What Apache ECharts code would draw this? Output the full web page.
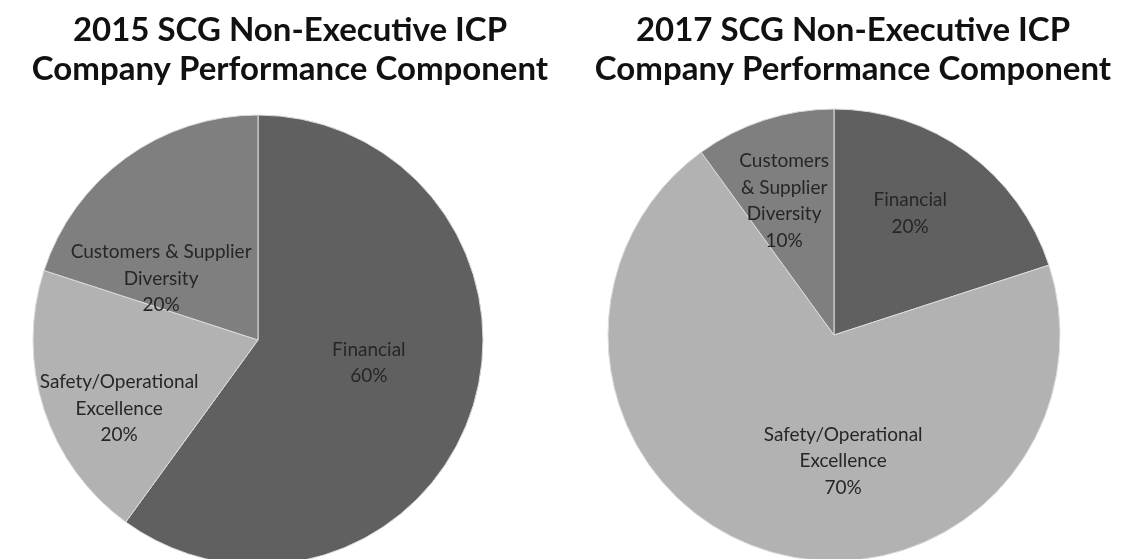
<!DOCTYPE html>
<html>
<head>
<meta charset="utf-8">
<title>SCG Non-Executive ICP</title>
<script src="https://cdn.jsdelivr.net/npm/echarts@6/dist/echarts.min.js"></script>
<style>
  html, body { margin: 0; padding: 0; background: #fff; }
  #chart { width: 1121px; height: 559px; }
</style>
</head>
<body>
<div id="chart"></div>
<script>
// --- Data ---
const categories = ["Financial", "Safety/Operational Excellence", "Customers & Supplier Diversity"];
const values2015 = [60, 20, 20];
const values2017 = [20, 70, 10];
// Wrapped label text, as the slides break the lines
const labels2015 = ["Financial", "Safety/Operational\nExcellence", "Customers & Supplier\nDiversity"];
const labels2017 = ["Financial", "Safety/Operational\nExcellence", "Customers\n& Supplier\nDiversity"];
const titles = [
  "2015 SCG Non-Executive ICP\nCompany Performance Component",
  "2017 SCG Non-Executive ICP\nCompany Performance Component",
];

// --- Styling ---
const SLICE_COLORS = ["#606060", "#b2b2b2", "#7f7f7f"];
const FONT = "Lato, 'Open Sans', sans-serif";
// Nudges so labels sit where the "best fit" placement put them
const OFFSETS_2015 = [[1, -13], [-29, 33], [-29, 32]];
const OFFSETS_2017 = [[8, -28], [45, 16], [-14, -24]];

function pieData(values, labels, offsets) {
  return values.map((v, i) => ({
    name: categories[i],
    value: v,
    itemStyle: { color: SLICE_COLORS[i] },
    label: { offset: offsets[i], formatter: `${labels[i]}\n{c}%` },
  }));
}

function pieSeries(center, radius, data) {
  return {
    type: "pie",
    center,
    radius,
    startAngle: 90,
    clockwise: true,
    silent: true,
    animation: false,
    itemStyle: { borderColor: "#dcdcdc", borderWidth: 1 },
    label: {
      show: true,
      position: "inside",
      color: "#262626",
      fontFamily: FONT,
      fontSize: 19,
      lineHeight: 26.5,
      align: "center",
    },
    labelLine: { show: false },
    data,
  };
}

const titleStyle = {
  fontFamily: FONT,
  fontWeight: "bold",
  fontSize: 33,
  lineHeight: 39,
  color: "#111",
};

const chart = echarts.init(document.getElementById("chart"), null, { renderer: "canvas" });
chart.setOption({
  backgroundColor: "#fff",
  title: [
    { text: titles[0], left: 285, top: 6, textAlign: "center", textStyle: titleStyle },
    { text: titles[1], left: 848, top: 6, textAlign: "center", textStyle: titleStyle },
  ],
  series: [
    pieSeries([258, 340], 225, pieData(values2015, labels2015, OFFSETS_2015)),
    pieSeries([834, 335], 226, pieData(values2017, labels2017, OFFSETS_2017)),
  ],
});
</script>
</body>
</html>
